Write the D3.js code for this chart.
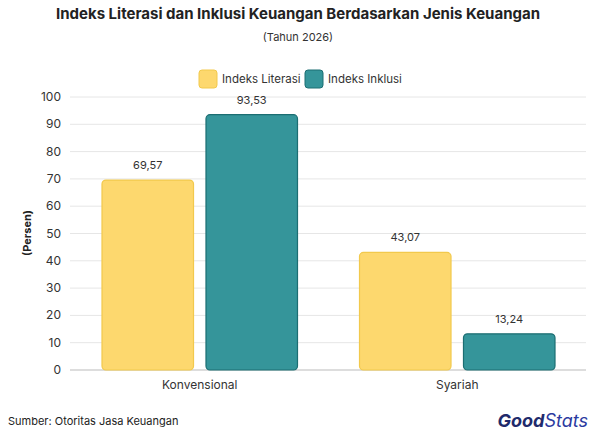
<!DOCTYPE html><html><head><script src="https://cdn.jsdelivr.net/npm/d3@7"></script>
<style>body{margin:0;background:#fff}text{font-family:Inter,"Open Sans",sans-serif}</style></head><body>
<svg id="c" width="596" height="431"></svg>
<script>
const categories=["Konvensional","Syariah"];
const seriesNames=["Indeks Literasi","Indeks Inklusi"];
const literasi=[69.57,43.07];
const inklusi=[93.53,13.24];
const yTicks=[0,10,20,30,40,50,60,70,80,90,100];
const fills=["#FDD86E","#35959A"],strokes=["#F2C94C","#1C6E72"];
const svg=d3.select("#c");
const x=d3.scaleBand().domain(categories).range([71,586]);
const y=d3.scaleLinear().domain([0,100]).range([370,97]);
const x1=d3.scaleBand().domain(seriesNames).range([31,x.bandwidth()-31]).paddingInner(0.12);
svg.append("g").selectAll("line").data(yTicks).join("line").attr("x1",70).attr("x2",586)
 .attr("y1",d=>y(d)).attr("y2",d=>y(d)).attr("stroke",d=>d===0?"#bbb":"#e6e6e6");
svg.append("g").selectAll("text").data(yTicks).join("text").attr("x",61).attr("y",d=>y(d)+4)
 .attr("text-anchor","end").attr("font-size",12).attr("fill","#333").text(d=>d);
const data=[literasi,inklusi];
data.forEach((vals,si)=>{
 const g=svg.append("g");
 g.selectAll("rect").data(vals).join("rect").attr("x",(d,i)=>x(categories[i])+x1(seriesNames[si]))
  .attr("y",d=>y(d)).attr("width",x1.bandwidth()).attr("height",d=>y(0)-y(d)).attr("rx",4)
  .attr("fill",fills[si]).attr("stroke",strokes[si]).attr("stroke-width",1.2);
 g.selectAll("text").data(vals).join("text").attr("x",(d,i)=>x(categories[i])+x1(seriesNames[si])+x1.bandwidth()/2)
  .attr("y",d=>y(d)-11).attr("text-anchor","middle").attr("font-size",11).attr("fill","#333")
  .text(d=>d.toFixed(2).replace(".",","));
});
svg.append("g").selectAll("text").data(categories).join("text").attr("x",d=>x(d)+x.bandwidth()/2).attr("y",389)
 .attr("text-anchor","middle").attr("font-size",12).attr("fill","#333").text(d=>d);
svg.append("text").attr("x",298).attr("y",19).attr("text-anchor","middle").attr("font-size",15).attr("font-weight","bold").attr("fill","#222")
 .text("Indeks Literasi dan Inklusi Keuangan Berdasarkan Jenis Keuangan");
svg.append("text").attr("x",298).attr("y",41).attr("text-anchor","middle").attr("font-size",11).attr("fill","#333").text("(Tahun 2026)");
svg.append("text").attr("transform","translate(31,233) rotate(-90)").attr("text-anchor","middle").attr("font-size",11).attr("font-weight","bold").attr("fill","#222").text("(Persen)");
const lx=[199,305];
seriesNames.forEach((n,i)=>{
 svg.append("rect").attr("x",lx[i]).attr("y",70).attr("width",18).attr("height",18).attr("rx",3).attr("fill",fills[i]).attr("stroke",strokes[i]);
 svg.append("text").attr("x",lx[i]+23).attr("y",83).attr("font-size",11.5).attr("fill","#333").text(n);
});
svg.append("text").attr("x",8).attr("y",425).attr("font-size",11).attr("fill","#222").text("Sumber: Otoritas Jasa Keuangan");
const lg=svg.append("text").attr("x",588).attr("y",427).attr("text-anchor","end").attr("font-size",18).attr("font-weight","bold").attr("font-style","italic");
lg.append("tspan").attr("fill","#1f2a6b").text("Good");
lg.append("tspan").attr("fill","#2b3aa0").attr("font-weight","normal").text("Stats");
</script></body></html>
